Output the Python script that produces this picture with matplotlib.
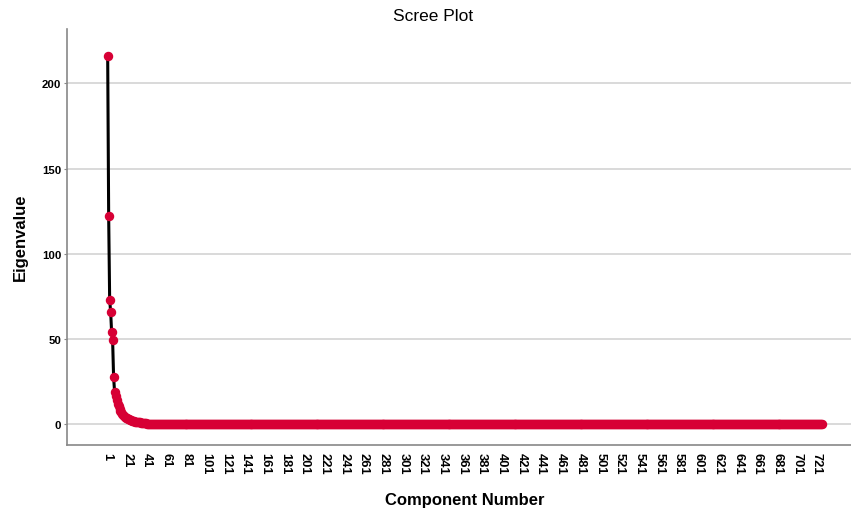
import numpy as np
import matplotlib.pyplot as plt

# eigenvalues (components 1..40)
head_eigen = [216.0, 122.3, 73.0, 66.0, 53.8, 49.5, 27.6, 19.0, 16.5, 14.0,
              12.0, 10.4, 9.0, 7.9, 6.9, 6.1, 5.4, 4.8, 4.3, 3.8,
              3.4, 3.0, 2.7, 2.4, 2.15, 1.95, 1.75, 1.6, 1.45, 1.3,
              1.2, 1.1, 1.0, 0.92, 0.85, 0.78, 0.72, 0.67, 0.62, 0.58]
# flat tail: (number of components, approx eigenvalue)
tail_levels = [(686, 0.3)]
tick_labels = [str(i) for i in range(1, 722, 20)]

eigen = list(head_eigen)
for n, v in tail_levels:
    eigen += [v] * n
comp = np.arange(1, len(eigen) + 1)

plt.rcParams['font.family'] = ['Liberation Sans', 'DejaVu Sans']

W, H = 851, 510
fig = plt.figure(figsize=(W/100, H/100), dpi=100)
ax = fig.add_axes([67/W, 1-446/H, 1-67/W, (446-30)/H])

ax.plot(comp, eigen, color='black', lw=2.2, zorder=2)
ax.plot(comp, eigen, 'o', color='#d70035', ms=5.8, mec='#d70035', zorder=3)

ax.set_xlim(-40.3, 755.6)
ax.set_ylim(-12.3, 231.9)
ax.set_yticks([0, 50, 100, 150, 200])
ax.set_xticks([int(t) for t in tick_labels])
ax.set_xticklabels(tick_labels, rotation=-90, fontsize=9.3, fontweight='bold')
for lab in ax.get_yticklabels():
    lab.set_fontweight('bold')
    lab.set_fontsize(8.2)
ax.tick_params(axis='x', length=0, pad=5)
ax.tick_params(axis='y', length=2.5, color='#888888', pad=1.5)

ax.grid(axis='y', color='#d3d3d3', lw=1.2, zorder=0)
ax.set_axisbelow(True)
for s in ['top', 'right']:
    ax.spines[s].set_visible(False)
for s in ['left', 'bottom']:
    ax.spines[s].set_color('#888888')
    ax.spines[s].set_linewidth(1.2)

fig.text(433/W, 1-16.5/H, 'Scree Plot', fontsize=12.5, ha='center', va='center')
fig.text(465/W, 1-501/H, 'Component Number', fontsize=12, fontweight='bold',
         ha='center', va='center')
fig.text(20.5/W, 1-237/H, 'Eigenvalue', fontsize=12, fontweight='bold',
         ha='center', va='center', rotation=90)

fig.savefig('out.png', dpi=100)
